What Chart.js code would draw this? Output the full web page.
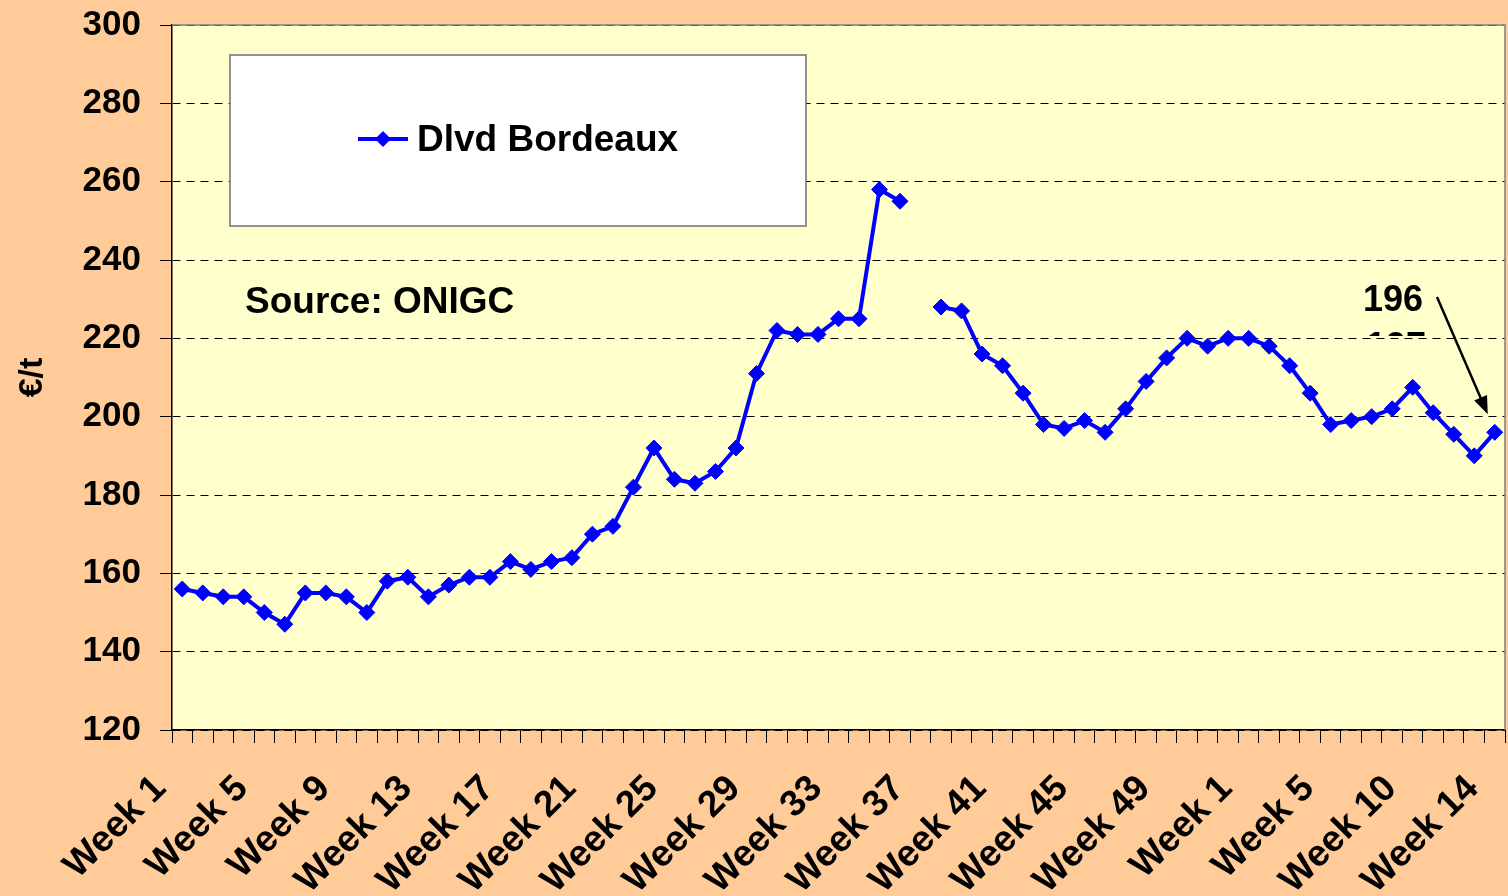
<!DOCTYPE html>
<html lang="en">
<head>
    <meta charset="UTF-8">
    <title>Dlvd Bordeaux</title>
    <style>
        body {
            margin: 0;
            padding: 0;
            background: #FFCC99;
        }
        canvas {
            display: block;
        }
    </style>
    <script src="https://cdn.jsdelivr.net/npm/chart.js"></script>
</head>
<body>
    <canvas id="myChart" width="1508" height="896"></canvas>
    <script>
        // week numbers on the x axis (one year and a bit)
        const weekNumbers = [
            1, 2, 3, 4, 5, 6, 7, 8, 9, 10, 11, 12, 13, 14, 15, 16, 17, 18, 19, 20,
            21, 22, 23, 24, 25, 26, 27, 28, 29, 30, 31, 32, 33, 34, 35, 36, 37, 38, 39, 40,
            41, 42, 43, 44, 45, 46, 47, 48, 49, 50, 51, 52,
            1, 2, 3, 4, 5, 7, 8, 9, 10, 11, 12, 13, 14
        ];
        // Dlvd Bordeaux, EUR/t (null = no quote)
        const bordeaux = [
            156, 155, 154, 154, 150, 147, 155, 155, 154, 150, 158, 159, 154, 157, 159, 159,
            163, 161, 163, 164, 170, 172, 182, 192, 184, 183, 186, 192, 211, 222, 221, 221,
            225, 225, 258, 255, null, 228, 227, 216, 213, 206, 198, 197, 199, 196, 202, 209,
            215, 220, 218, 220, 220, 218, 213, 206, 198, 199, 200, 202, 207.5, 201, 195.5, 190, 196
        ];
        const yTicks = [120, 300, 20]; // min, max, step
        const seriesName = 'Dlvd Bordeaux';
        const sourceText = 'Source: ONIGC';
        const lastLabel = '196';
        const hiddenLabel = '197';

        const labels = weekNumbers.map(n => 'Week ' + n);
        const FONT = "'Liberation Sans', Arial, sans-serif";
        Chart.defaults.font.family = FONT;
        Chart.defaults.color = '#000';

        // backgrounds, legend box, source note and arrow annotation
        const decor = {
            id: 'decor',
            beforeDraw(chart) {
                const ctx = chart.ctx, a = chart.chartArea;
                ctx.save();
                ctx.fillStyle = '#FFCC99';
                ctx.fillRect(0, 0, chart.width, chart.height);
                ctx.fillStyle = '#FFFFCC';
                ctx.fillRect(a.left, a.top, a.right - a.left, a.bottom - a.top);
                ctx.restore();
            },
            beforeDatasetsDraw(chart) {
                const ctx = chart.ctx, a = chart.chartArea;
                ctx.save();
                ctx.strokeStyle = '#808080';
                ctx.lineWidth = 1.5;
                ctx.beginPath();
                ctx.moveTo(a.left, a.top);
                ctx.lineTo(a.right, a.top);
                ctx.lineTo(a.right, a.bottom);
                ctx.stroke();
                ctx.restore();
            },
            afterDatasetsDraw(chart) {
                const ctx = chart.ctx;
                ctx.save();
                // legend box
                ctx.fillStyle = '#fff';
                ctx.fillRect(230, 55, 576, 171);
                ctx.strokeStyle = '#707070';
                ctx.lineWidth = 1.5;
                ctx.strokeRect(230, 55, 576, 171);
                ctx.strokeStyle = '#0000FF';
                ctx.lineWidth = 4;
                ctx.beginPath();
                ctx.moveTo(358, 139);
                ctx.lineTo(408, 139);
                ctx.stroke();
                ctx.fillStyle = '#0000FF';
                ctx.beginPath();
                ctx.moveTo(383, 131);
                ctx.lineTo(391, 139);
                ctx.lineTo(383, 147);
                ctx.lineTo(375, 139);
                ctx.closePath();
                ctx.fill();
                ctx.fillStyle = '#000';
                ctx.font = 'bold 37px ' + FONT;
                ctx.textBaseline = 'middle';
                ctx.fillText(seriesName, 417, 141);

                ctx.textBaseline = 'alphabetic';
                ctx.font = 'bold 37px ' + FONT;
                ctx.fillText(sourceText, 245, 313);

                // last value annotation
                ctx.font = 'bold 36px ' + FONT;
                ctx.fillText(lastLabel, 1363, 311);
                ctx.save();
                ctx.beginPath();
                ctx.rect(1360, 329, 70, 7);
                ctx.clip();
                ctx.fillText(hiddenLabel, 1366, 358);
                ctx.restore();

                const pts = chart.getDatasetMeta(0).data;
                const p = pts[pts.length - 1];
                const x0 = 1437, y0 = 297;
                const x1 = p.x - 7, y1 = p.y - 18;
                const ang = Math.atan2(y1 - y0, x1 - x0);
                ctx.strokeStyle = '#000';
                ctx.lineWidth = 2.5;
                ctx.beginPath();
                ctx.moveTo(x0, y0);
                ctx.lineTo(x1 - 14 * Math.cos(ang), y1 - 14 * Math.sin(ang));
                ctx.stroke();
                ctx.fillStyle = '#000';
                ctx.beginPath();
                ctx.moveTo(x1, y1);
                ctx.lineTo(x1 - 18 * Math.cos(ang) + 7 * Math.sin(ang), y1 - 18 * Math.sin(ang) - 7 * Math.cos(ang));
                ctx.lineTo(x1 - 18 * Math.cos(ang) - 7 * Math.sin(ang), y1 - 18 * Math.sin(ang) + 7 * Math.cos(ang));
                ctx.closePath();
                ctx.fill();
                ctx.restore();
            }
        };

        const ctx = document.getElementById('myChart').getContext('2d');
        new Chart(ctx, {
            type: 'line',
            data: {
                labels: labels,
                datasets: [{
                    label: seriesName,
                    data: bordeaux,
                    borderColor: '#0000FF',
                    backgroundColor: '#0000FF',
                    borderWidth: 4,
                    pointStyle: 'rectRot',
                    pointRadius: 8,
                    pointBorderWidth: 1,
                    spanGaps: false,
                    tension: 0
                }]
            },
            options: {
                responsive: false,
                devicePixelRatio: 1,
                animation: false,
                layout: {
                    autoPadding: false,
                    padding: { top: 25, right: 3, left: 0, bottom: 0 }
                },
                plugins: {
                    legend: { display: false },
                    tooltip: { enabled: false }
                },
                scales: {
                    x: {
                        offset: true,
                        grid: {
                            offset: true,
                            drawOnChartArea: false,
                            drawTicks: true,
                            tickLength: 13,
                            tickColor: '#000',
                            tickWidth: 1
                        },
                        border: { color: '#000', width: 1.5 },
                        ticks: {
                            autoSkip: false,
                            minRotation: 45,
                            maxRotation: 45,
                            padding: 24,
                            labelOffset: -22,
                            font: { size: 37, weight: 'bold' },
                            callback: (v, i) => (i % 4 === 0 ? labels[i] : '')
                        },
                        afterFit: s => {
                            s.height = 166;
                            s.paddingLeft = 0;
                            s.paddingRight = 0;
                        }
                    },
                    y: {
                        min: yTicks[0],
                        max: yTicks[1],
                        ticks: {
                            stepSize: yTicks[2],
                            padding: 19,
                            font: { size: 35, weight: 'bold' }
                        },
                        grid: {
                            color: '#000',
                            lineWidth: 1,
                            tickLength: 12,
                            tickColor: '#000'
                        },
                        border: { color: '#000', width: 1.5, dash: [8, 6] },
                        title: {
                            display: true,
                            text: '€/t',
                            font: { size: 34, weight: 'bold' },
                            padding: { top: 12, bottom: 0 }
                        },
                        afterFit: s => {
                            s.width = 172;
                            s.paddingTop = 0;
                            s.paddingBottom = 0;
                        }
                    }
                }
            },
            plugins: [decor]
        });
    </script>
</body>
</html>
